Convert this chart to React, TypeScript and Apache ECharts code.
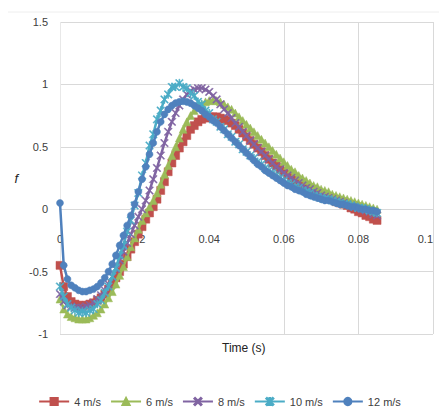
import React, { useEffect, useRef } from "react";
import * as echarts from "echarts";

const times = [
  0, 0.001, 0.002, 0.003, 0.004, 0.005, 0.006, 0.007, 0.008, 0.009,
  0.01, 0.011, 0.012, 0.013, 0.014, 0.015, 0.016, 0.017, 0.018, 0.019,
  0.02, 0.021, 0.022, 0.023, 0.024, 0.025, 0.026, 0.027, 0.028, 0.029,
  0.03, 0.031, 0.032, 0.033, 0.034, 0.035, 0.036, 0.037, 0.038, 0.039,
  0.04, 0.041, 0.042, 0.043, 0.044, 0.045, 0.046, 0.047, 0.048, 0.049,
  0.05, 0.051, 0.052, 0.053, 0.054, 0.055, 0.056, 0.057, 0.058, 0.059,
  0.06, 0.061, 0.062, 0.063, 0.064, 0.065, 0.066, 0.067, 0.068, 0.069,
  0.07, 0.071, 0.072, 0.073, 0.074, 0.075, 0.076, 0.077, 0.078, 0.079,
  0.08, 0.081, 0.082, 0.083, 0.084, 0.085,
];

const f4 = [
  -0.45, -0.62, -0.7, -0.74, -0.76, -0.77, -0.77, -0.77, -0.76, -0.75,
  -0.73, -0.71, -0.68, -0.64, -0.6, -0.55, -0.5, -0.44, -0.38, -0.32,
  -0.26, -0.2, -0.14, -0.08, -0.03, 0.02, 0.08, 0.15, 0.22, 0.3,
  0.37, 0.43, 0.49, 0.54, 0.59, 0.64, 0.67, 0.7, 0.72, 0.73,
  0.74, 0.74, 0.74, 0.73, 0.72, 0.71, 0.69, 0.67, 0.64, 0.61,
  0.58, 0.55, 0.52, 0.49, 0.46, 0.43, 0.4, 0.37, 0.35, 0.32,
  0.3, 0.28, 0.25, 0.23, 0.21, 0.2, 0.18, 0.16, 0.15, 0.13,
  0.12, 0.1, 0.09, 0.08, 0.06, 0.05, 0.04, 0.03, 0.01, 0.0,
  -0.02, -0.03, -0.05, -0.06, -0.08, -0.09,
];

const f6 = [
  -0.72, -0.8, -0.84, -0.86, -0.87, -0.88, -0.88, -0.88, -0.87, -0.85,
  -0.83, -0.8, -0.76, -0.71, -0.66, -0.6, -0.53, -0.46, -0.38, -0.3,
  -0.23, -0.16, -0.09, -0.03, 0.02, 0.07, 0.13, 0.2, 0.28, 0.35,
  0.43, 0.5, 0.57, 0.64, 0.7, 0.75, 0.79, 0.82, 0.84, 0.86,
  0.87, 0.87, 0.87, 0.86, 0.84, 0.82, 0.8, 0.77, 0.74, 0.71,
  0.68, 0.65, 0.62, 0.59, 0.56, 0.53, 0.5, 0.47, 0.44, 0.41,
  0.38, 0.35, 0.32, 0.3, 0.27, 0.25, 0.23, 0.21, 0.19, 0.18,
  0.16, 0.15, 0.14, 0.12, 0.11, 0.1, 0.09, 0.08, 0.07, 0.06,
  0.05, 0.04, 0.03, 0.02, 0.01, 0.0,
];

const f8 = [
  -0.68, -0.74, -0.77, -0.78, -0.79, -0.79, -0.79, -0.78, -0.77, -0.75,
  -0.72, -0.69, -0.65, -0.6, -0.54, -0.48, -0.41, -0.34, -0.27, -0.2,
  -0.13, -0.06, 0.0, 0.07, 0.15, 0.24, 0.33, 0.43, 0.53, 0.62,
  0.7, 0.77, 0.83, 0.88, 0.92, 0.95, 0.96, 0.97, 0.97, 0.96,
  0.94, 0.91, 0.88, 0.84, 0.8, 0.77, 0.73, 0.69, 0.66, 0.62,
  0.59, 0.55, 0.52, 0.49, 0.46, 0.43, 0.4, 0.37, 0.34, 0.32,
  0.29, 0.27, 0.25, 0.23, 0.21, 0.19, 0.17, 0.16, 0.14, 0.13,
  0.11, 0.1, 0.09, 0.08, 0.07, 0.06, 0.05, 0.04, 0.03, 0.02,
  0.01, 0.0, -0.01, -0.02, -0.04, -0.05,
];

const f10 = [
  -0.62, -0.7, -0.76, -0.79, -0.81, -0.83, -0.82, -0.83, -0.81, -0.8,
  -0.76, -0.73, -0.67, -0.62, -0.54, -0.47, -0.37, -0.29, -0.18, -0.09,
  0.03, 0.13, 0.27, 0.37, 0.51, 0.6, 0.72, 0.79, 0.88, 0.92,
  0.98, 0.98, 1.01, 0.98, 0.97, 0.93, 0.91, 0.86, 0.84, 0.79,
  0.77, 0.72, 0.7, 0.66, 0.64, 0.6, 0.58, 0.54, 0.52, 0.48,
  0.46, 0.43, 0.41, 0.38, 0.36, 0.33, 0.31, 0.29, 0.27, 0.25,
  0.23, 0.21, 0.2, 0.18, 0.17, 0.15, 0.14, 0.13, 0.11, 0.1,
  0.09, 0.08, 0.08, 0.07, 0.06, 0.05, 0.04, 0.04, 0.03, 0.02,
  0.01, 0.01, 0.0, -0.01, -0.02, -0.03,
];

const f12 = [
  0.05, -0.45, -0.56, -0.61, -0.63, -0.65, -0.66, -0.66, -0.65, -0.64,
  -0.62, -0.59, -0.55, -0.5, -0.44, -0.37, -0.29, -0.21, -0.13, -0.05,
  0.04, 0.14, 0.24, 0.34, 0.44, 0.53, 0.62, 0.7, 0.76, 0.8,
  0.83, 0.85, 0.86, 0.865, 0.86, 0.85, 0.83, 0.81, 0.79, 0.76,
  0.74, 0.71, 0.69, 0.66, 0.63, 0.6, 0.57, 0.54, 0.51, 0.48,
  0.45, 0.42, 0.39, 0.36, 0.34, 0.31, 0.29, 0.27, 0.25, 0.23,
  0.21, 0.19, 0.18, 0.16, 0.15, 0.14, 0.12, 0.11, 0.1, 0.09,
  0.08, 0.07, 0.07, 0.06, 0.05, 0.04, 0.04, 0.03, 0.02, 0.02,
  0.01, 0.0, 0.0, -0.01, -0.01, -0.02,
];

const seriesNames = ["4 m/s", "6 m/s", "8 m/s", "10 m/s", "12 m/s"];
const seriesValues = [f4, f6, f8, f10, f12];
const seriesColors = ["#C0504D", "#9BBB59", "#8064A2", "#4BACC6", "#4F81BD"];

const X_PATH =
  "path://M0,1L1,0L5,4L9,0L10,1L6,5L10,9L9,10L5,6L1,10L0,9L4,5Z";
const STAR_PATH =
  "path://M0,1L1,0L4.4,3.4L4.4,0L5.6,0L5.6,3.4L9,0L10,1L6,5L10,9L9,10L5.6,6.6L5.6,10L4.4,10L4.4,6.6L1,10L0,9L4,5Z";
const seriesSymbols = ["rect", "triangle", X_PATH, STAR_PATH, "circle"];
const seriesSymbolSizes = [8, 8, 8, 8, 7];

const GRID_TOP = 22;
const GRID_BOTTOM = 82;
const CHART_H = 416;
const Y_MIN = -1;
const Y_MAX = 1.5;

export default function App() {
  const ref = useRef<HTMLDivElement>(null);
  useEffect(() => {
    if (!ref.current) return;
    const chart = echarts.init(ref.current, null, { renderer: "svg" });
    const font = "'Liberation Sans', Arial, sans-serif";
    const gridH = CHART_H - GRID_TOP - GRID_BOTTOM;
    const zeroOffset = -Math.round((gridH * (0 - Y_MIN)) / (Y_MAX - Y_MIN));
    chart.setOption({
      animation: false,
      backgroundColor: "#ffffff",
      grid: {
        left: 60,
        right: 6,
        top: GRID_TOP,
        bottom: GRID_BOTTOM,
        containLabel: false,
        outerBoundsMode: "none",
      },
      xAxis: {
        type: "value",
        min: 0,
        max: 0.1,
        interval: 0.02,
        position: "bottom",
        offset: zeroOffset,
        axisLine: { onZero: false, lineStyle: { color: "#d9d9d9", width: 1 } },
        axisTick: { show: false },
        axisLabel: {
          margin: 24,
          color: "#404040",
          fontSize: 11,
          fontFamily: font,
          alignMaxLabel: "right",
          formatter: (v: number) => String(Math.round(v * 100) / 100),
        },
        splitLine: {
          show: true,
          lineStyle: {
            color: [
              "#e8e8e8",
              "rgba(0,0,0,0)",
              "rgba(0,0,0,0)",
              "#d9d9d9",
              "#d9d9d9",
              "#d9d9d9",
            ],
            width: 1,
          },
        },
      },
      yAxis: {
        type: "value",
        min: Y_MIN,
        max: Y_MAX,
        interval: 0.5,
        name: "f",
        nameLocation: "middle",
        nameRotate: 0,
        nameGap: 42,
        nameTextStyle: {
          color: "#222",
          fontSize: 13,
          fontFamily: font,
          fontStyle: "italic",
        },
        axisLine: { show: false, onZero: false },
        axisTick: { show: false },
        axisLabel: {
          margin: 12,
          color: "#404040",
          fontSize: 11,
          fontFamily: font,
        },
        splitLine: { show: true, lineStyle: { color: "#d9d9d9", width: 1 } },
      },
      legend: {
        bottom: 4,
        left: "center",
        itemWidth: 30,
        itemHeight: 9,
        itemGap: 9,
        textStyle: { color: "#404040", fontSize: 11, fontFamily: font },
        data: seriesNames,
      },
      graphic: [
        {
          type: "line",
          shape: { x1: 8, y1: 12, x2: 439, y2: 12 },
          style: { stroke: "#eeeeee", lineWidth: 1 },
          silent: true,
        },
        {
          type: "text",
          left: 222,
          top: 342,
          style: {
            text: "Time (s)",
            fill: "#222",
            fontSize: 12,
            fontFamily: font,
          },
        },
      ],
      series: seriesNames.map((name, i) => ({
        name,
        type: "line",
        data: times.map((t, j) => [t, seriesValues[i][j]]),
        symbol: seriesSymbols[i],
        symbolSize: seriesSymbolSizes[i],
        showAllSymbol: true,
        color: seriesColors[i],
        lineStyle: { color: seriesColors[i], width: 2.5 },
        itemStyle: { color: seriesColors[i], borderColor: seriesColors[i], borderWidth: 0.5 },
        z: 2 + i,
      })),
    });
    return () => chart.dispose();
  }, []);
  return (
    <div
      ref={ref}
      style={{ position: "fixed", left: 0, top: 0, width: 439, height: 416 }}
    />
  );
}
